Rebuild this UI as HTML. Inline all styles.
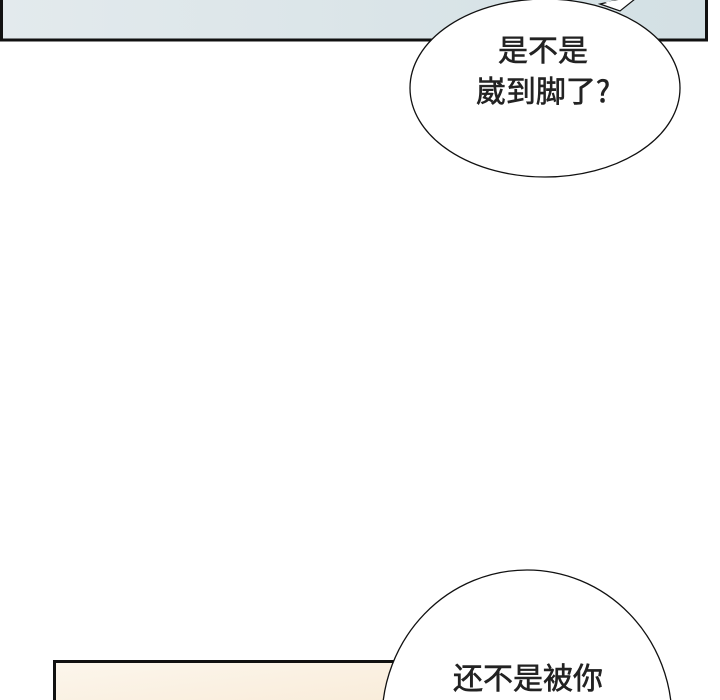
<!DOCTYPE html>
<html style="overflow:hidden"><head><meta charset="utf-8"><style>
html,body{margin:0;width:720px;height:700px;overflow:hidden;background:#fff}
body{position:relative;font-family:"Liberation Sans","Noto Sans CJK SC",sans-serif}
svg{position:absolute;left:0;top:0;display:block;overflow:hidden}
</style></head><body>
<svg width="720" height="700" viewBox="0 0 720 700">
<defs>
<linearGradient id="g1" x1="0" x2="1"><stop offset="0" stop-color="#e3eaed"/><stop offset="1" stop-color="#d3e0e4"/></linearGradient>
<linearGradient id="g2" x1="0" x2="1" y1="0" y2="1"><stop offset="0" stop-color="#fcf6ec"/><stop offset="1" stop-color="#f8ead6"/></linearGradient>
</defs>
<rect x="1.5" y="-5" width="705" height="45" fill="url(#g1)" stroke="#111" stroke-width="3"/>
<rect x="54.5" y="661.5" width="400" height="50" fill="url(#g2)" stroke="#111" stroke-width="3"/>
<path d="M600,4 L620,11 L640,-5 Z" fill="#fff" stroke="#111" stroke-width="1.2"/>
<ellipse cx="545" cy="88" rx="135" ry="89" fill="#fff" stroke="#111" stroke-width="1.3"/>
<path d="M605,2 L620,10 L632,-2 Z" fill="#fff"/>
<ellipse cx="527" cy="720" rx="145" ry="150" fill="#fff" stroke="#111" stroke-width="1.3"/>
<g font-family="Noto Sans CJK SC, sans-serif" font-size="30" fill="#222" text-anchor="middle" stroke="#222" stroke-width="0.6">
<text x="543" y="61">是不是</text>
<text x="543" y="102">崴到脚了?</text>
<text x="528" y="689">还不是被你</text>
</g>
</svg>
</body></html>
